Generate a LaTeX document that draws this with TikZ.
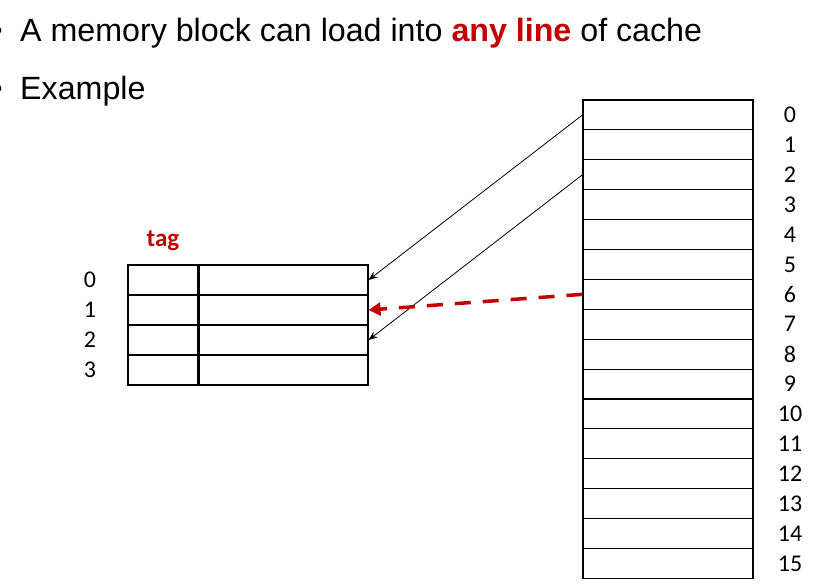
\documentclass[tikz,border=0pt]{standalone}
\usepackage{fontspec}
\setmainfont{Liberation Sans}
\newfontfamily\calibri{Carlito}
\usetikzlibrary{arrows.meta}
\definecolor{darkred}{RGB}{192,0,0}

\begin{document}
\begin{tikzpicture}[x=1pt,y=-1pt,
    memrow/.style={draw, line width=1.1pt, minimum width=170pt, minimum height=29.9pt, inner sep=0pt},
    tagcell/.style={draw, line width=1.1pt, minimum width=70pt, minimum height=30pt, inner sep=0pt},
    datacell/.style={draw, line width=1.1pt, minimum width=170pt, minimum height=30pt, inner sep=0pt},
    num/.style={font=\calibri\fontsize{24}{24}\selectfont},
    bigtext/.style={font=\fontsize{32.2}{36}\selectfont}]
    \useasboundingbox (0,0) rectangle (818,585);

    % The heading
    \node[bigtext, anchor=base west, inner sep=0pt] (line1) at (20,42)
        {A memory block can load into \textcolor{darkred}{\textbf{any line}} of cache};
    \node[bigtext, anchor=base west, inner sep=0pt] (line2) at (20,100) {Example};
    \node[bigtext, anchor=base, inner sep=0pt] (dot1) at (-3,42) {\textbullet};
    \node[bigtext, anchor=base, inner sep=0pt] (dot2) at (-3,100) {\textbullet};

    % The memory
    \foreach \i in {0,...,15}
    {
        \node[memrow] (m\i) at (668,{114.95+29.9*\i}) {};
        \node[num] (ml\i) at (790,{114.95+29.9*\i}) {\i};
    }

    % The cache
    \foreach \i in {0,...,3}
    {
        \node[tagcell] (t\i) at (163,{280+30*\i}) {};
        \node[datacell] (c\i) at (283,{280+30*\i}) {};
        \node[num] (cl\i) at (90,{280+30*\i}) {\i};
    }
    \draw[line width=2pt] (t0.north east) -- (t3.south east);
    \node[font=\calibri\bfseries\fontsize{25}{25}\selectfont, text=darkred] (tag) at (163,241) {tag};

    % The arrows
    \draw[line width=0.8pt, -{Stealth[length=9pt,width=7pt]}] (m0.west) -- (c0.east);
    \draw[line width=0.8pt, -{Stealth[length=9pt,width=7pt]}] (m2.west) -- (c2.east);
    \draw[darkred, line width=3.5pt, dash pattern=on 16pt off 12pt,
        -{Triangle[length=12pt,width=13pt]}] (m6.west) -- (c1.east);
\end{tikzpicture}
\end{document}
